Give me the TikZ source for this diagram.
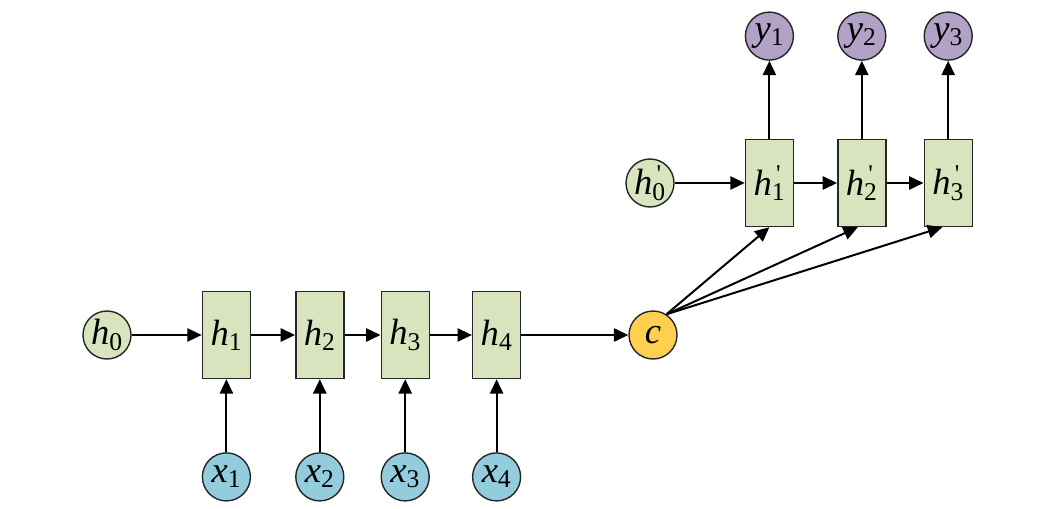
\documentclass[tikz,border=0pt]{standalone}
\usepackage{fontspec}
\setmainfont{Liberation Serif}
\usetikzlibrary{positioning,arrows.meta}

\definecolor{cellgreen}{HTML}{D7E4BD}
\definecolor{inblue}{HTML}{93CDDD}
\definecolor{outpurple}{HTML}{B3A2C7}
\definecolor{ctxyellow}{HTML}{FFD04F}

\newcommand{\lbl}[2]{\textit{#1}\textsubscript{#2}}
\newcommand{\lblp}[2]{\textit{#1}\rlap{\textsuperscript{\,\textquotesingle}}\textsubscript{#2}}

\begin{document}
\begin{tikzpicture}[x=0.25mm,y=-0.25mm,
		cell/.style={draw=black!85,line width=0.35mm,fill=cellgreen,minimum width=12mm,minimum height=21.75mm,inner sep=0pt,font=\fontsize{26}{30}\selectfont},
		state/.style={circle,draw=black!85,line width=0.35mm,minimum size=12mm,inner sep=0pt,font=\fontsize{26}{30}\selectfont},
		arr/.style={line width=0.5mm,-{Triangle[length=3.6mm,width=3.3mm]}}]
		\useasboundingbox (0,0) rectangle (1058,509);

		% encoder
		\node[state,fill=cellgreen]								(h0)	at (107,335)	{\lbl{h}{0}};
		\node[cell,node distance=17.5mm,right=of h0]			(h1)	{\lbl{h}{1}};
		\node[cell,node distance=11mm,right=of h1]				(h2)	{\lbl{h}{2}};
		\node[cell,node distance=9mm,right=of h2]				(h3)	{\lbl{h}{3}};
		\node[cell,node distance=10.5mm,right=of h3]			(h4)	{\lbl{h}{4}};
		\node[state,fill=ctxyellow,node distance=26.75mm,right=of h4]	(c)		{\textit{c}};
		\node[state,fill=inblue,node distance=18.25mm,below=of h1]	(x1)	{\lbl{x}{1}};
		\node[state,fill=inblue,node distance=18.25mm,below=of h2]	(x2)	{\lbl{x}{2}};
		\node[state,fill=inblue,node distance=18.25mm,below=of h3]	(x3)	{\lbl{x}{3}};
		\node[state,fill=inblue,node distance=18.25mm,below=of h4]	(x4)	{\lbl{x}{4}};

		% decoder
		\node[state,fill=cellgreen]								(d0)	at (650,183)	{\lblp{h}{0}};
		\node[cell,node distance=17.5mm,right=of d0]			(d1)	{\lblp{h}{1}};
		\node[cell,node distance=10.75mm,right=of d1]			(d2)	{\lblp{h}{2}};
		\node[cell,node distance=9.25mm,right=of d2]			(d3)	{\lblp{h}{3}};
		\node[state,fill=outpurple,node distance=19.5mm,above=of d1]	(y1)	{\lbl{y}{1}};
		\node[state,fill=outpurple,node distance=19.5mm,above=of d2]	(y2)	{\lbl{y}{2}};
		\node[state,fill=outpurple,node distance=19.5mm,above=of d3]	(y3)	{\lbl{y}{3}};

		\draw[arr]	(h0)	--	(h1);
		\draw[arr]	(h1)	--	(h2);
		\draw[arr]	(h2)	--	(h3);
		\draw[arr]	(h3)	--	(h4);
		\draw[arr]	(h4)	--	(c);
		\draw[arr]	(x1)	--	(h1);
		\draw[arr]	(x2)	--	(h2);
		\draw[arr]	(x3)	--	(h3);
		\draw[arr]	(x4)	--	(h4);

		\draw[arr]	(d0)	--	(d1);
		\draw[arr]	(d1)	--	(d2);
		\draw[arr]	(d2)	--	(d3);
		\draw[arr]	(d1)	--	(y1);
		\draw[arr]	(d2)	--	(y2);
		\draw[arr]	(d3)	--	(y3);
		\draw[arr]	(c.57)	--	(d1.south);
		\draw[arr]	(c.57)	--	([xshift=-1mm]d2.south);
		\draw[arr]	(c.57)	--	([xshift=-1.5mm]d3.south);
	\end{tikzpicture}
\end{document}
